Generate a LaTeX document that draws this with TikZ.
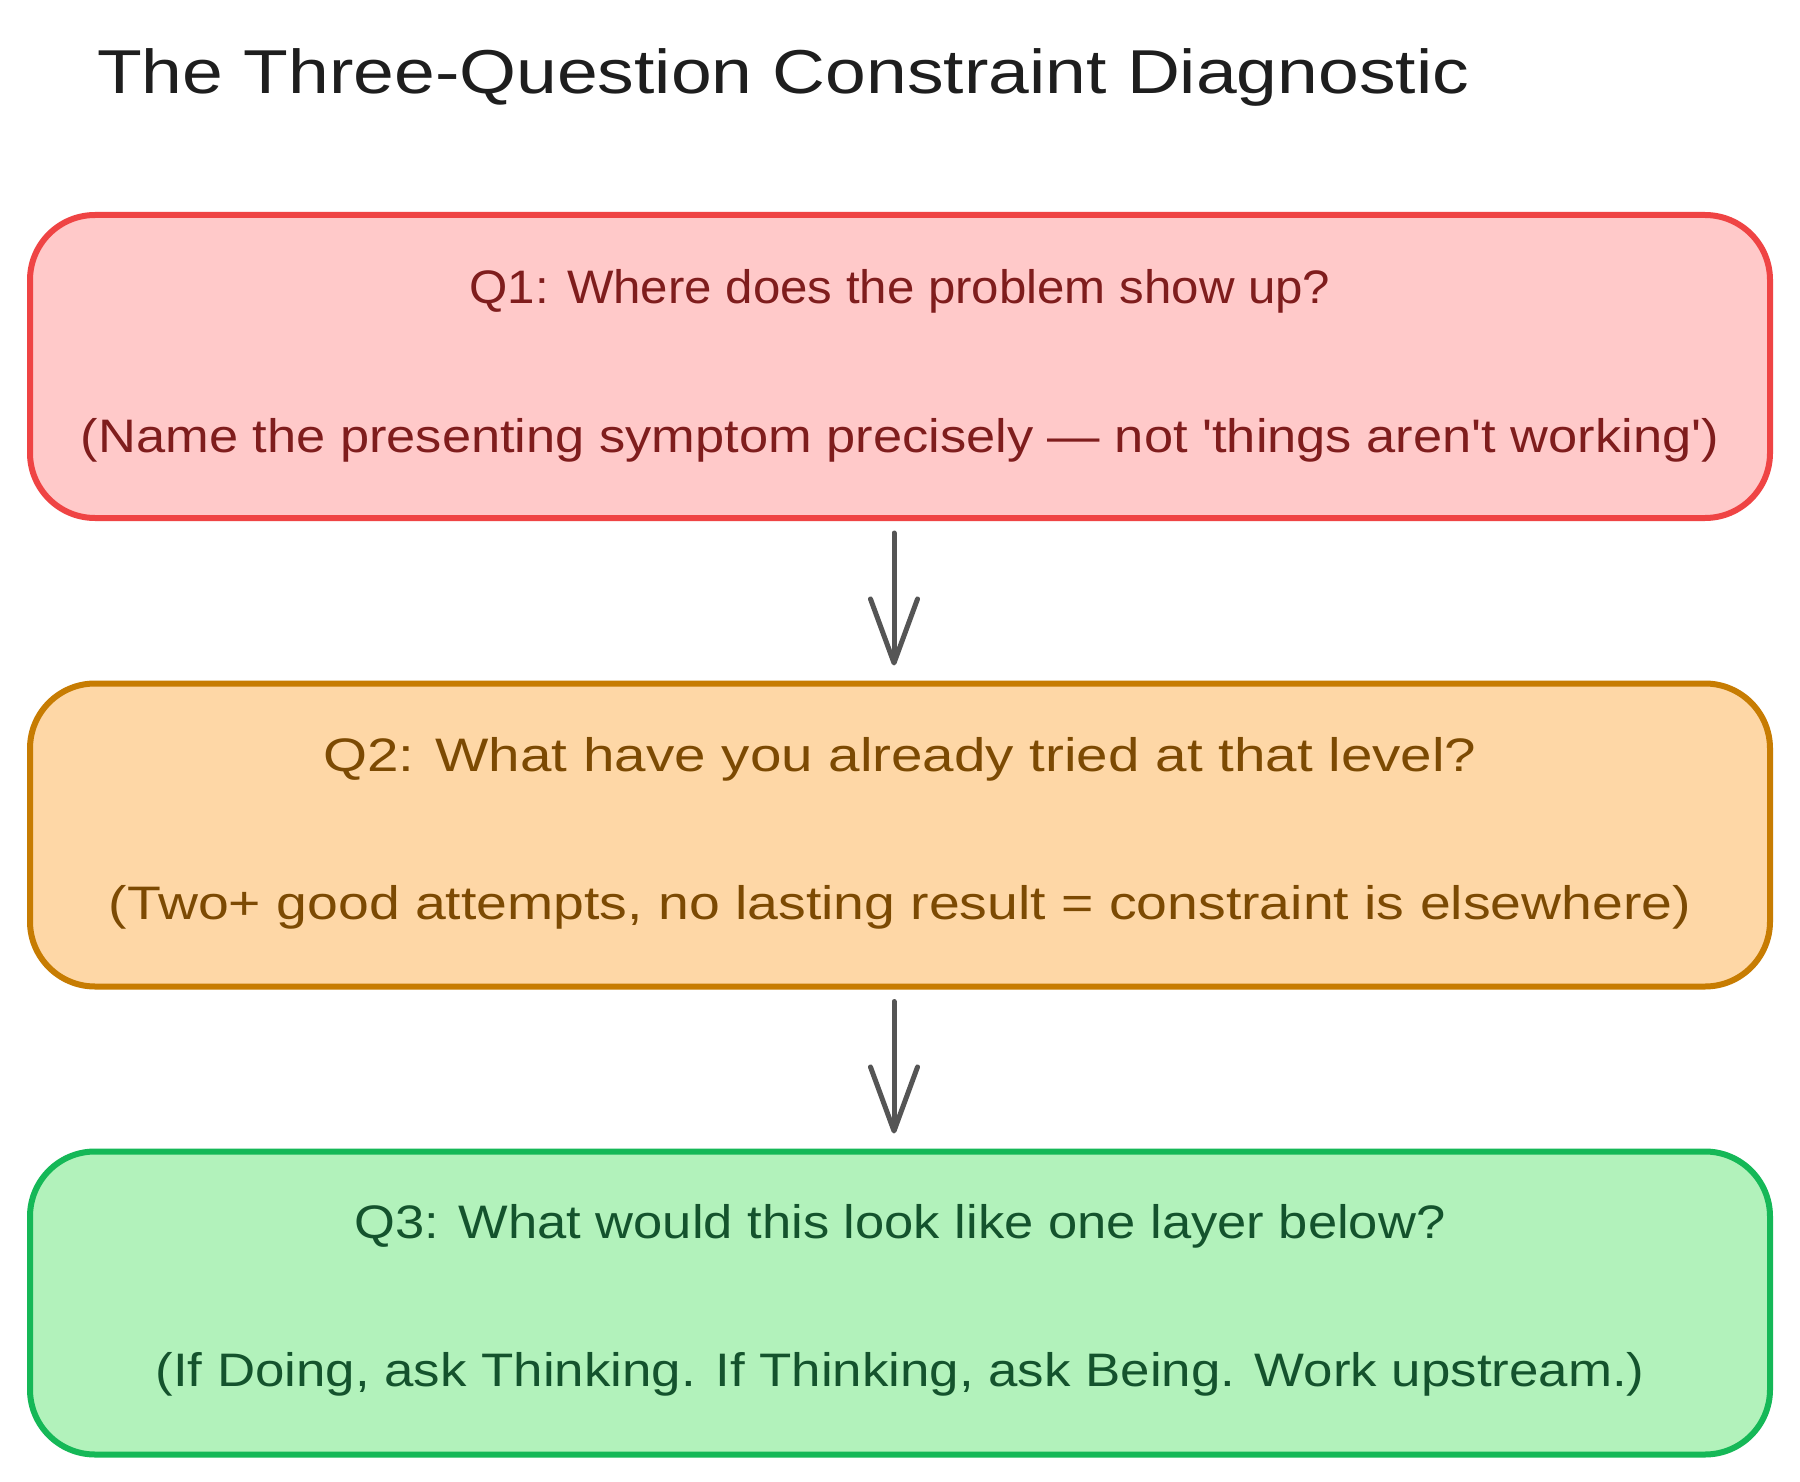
\documentclass[tikz,border=0pt]{standalone}
\usepackage{fontspec}
\usepackage{graphicx}
\setmainfont{Liberation Sans}
\usetikzlibrary{arrows.meta}
\definecolor{redS}{HTML}{EF4444}
\definecolor{redF}{HTML}{FFC9C9}
\definecolor{redT}{HTML}{7F1D1D}
\definecolor{orS}{HTML}{C77C02}
\definecolor{orF}{HTML}{FED7A6}
\definecolor{orT}{HTML}{7C4A03}
\definecolor{grS}{HTML}{15B857}
\definecolor{grF}{HTML}{B2F2BB}
\definecolor{grT}{HTML}{14532D}
\definecolor{arrC}{HTML}{555555}
\definecolor{titleC}{HTML}{1E1E1E}
\newcommand{\fitw}[2]{\resizebox{#1pt}{\height}{#2}}
\begin{document}
\begin{tikzpicture}[x=1pt,y=-1pt,
  qbox/.style={draw, line width=6pt, rounded corners=65pt, minimum width=1740pt, minimum height=303pt, inner sep=0pt},
  qtext/.style={font=\fontsize{47}{56}\selectfont, inner sep=0pt, anchor=center},
  conn/.style={draw=arrC, line width=5pt, line cap=round, -{Straight Barb[length=64pt,width=47pt,line width=5pt,round]}, shorten <=12pt, shorten >=15pt}
]
\useasboundingbox (0,0) rectangle (1800,1482);
\fill[white] (0,0) rectangle (1800,1482);

\node[anchor=west, inner sep=0pt, text=titleC, font=\fontsize{62}{72}\selectfont] (title) at (97,77) {\fitw{1372}{The Three-Question Constraint Diagnostic}};

\node[qbox, draw=redS, fill=redF] (b1) at (900,366.5) {};
\node[qtext, text=redT] (b1a) at (900,291) {\fitw{861}{Q1: Where does the problem show up?}};
\node[qtext, text=redT] (b1b) at (900,440) {\fitw{1638}{(Name the presenting symptom precisely — not \textquotesingle things aren\textquotesingle t working\textquotesingle)}};

\node[qbox, draw=orS, fill=orF] (b2) at (900,835) {};
\node[qtext, text=orT] (b2a) at (900,759) {\fitw{1153}{Q2: What have you already tried at that level?}};
\node[qtext, text=orT] (b2b) at (900,907) {\fitw{1582}{(Two+ good attempts, no lasting result = constraint is elsewhere)}};

\node[qbox, draw=grS, fill=grF] (b3) at (900,1303) {};
\node[qtext, text=grT] (b3a) at (900,1226) {\fitw{1091}{Q3: What would this look like one layer below?}};
\node[qtext, text=grT] (b3b) at (900,1374) {\fitw{1489}{(If Doing, ask Thinking. If Thinking, ask Being. Work upstream.)}};

\draw[conn] ([xshift=-6pt]b1.south) -- ([xshift=-6pt]b2.north);
\draw[conn] ([xshift=-6pt]b2.south) -- ([xshift=-6pt]b3.north);
\end{tikzpicture}
\end{document}
